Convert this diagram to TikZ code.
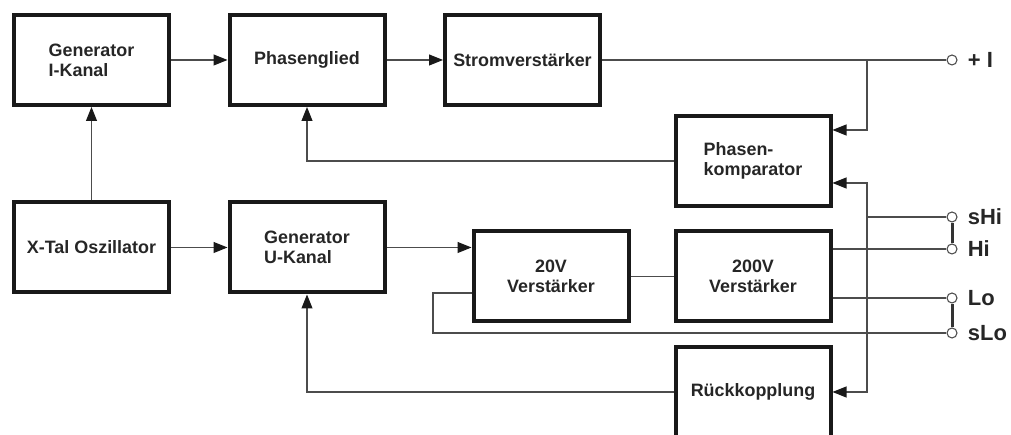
\documentclass[tikz,border=0pt]{standalone}
\usepackage{fontspec}
\setmainfont{Liberation Sans}
\usetikzlibrary{arrows.meta,positioning}
\tikzset{
  blk/.style={draw=black!90, line width=0.08cm, minimum width=3.1cm, minimum height=1.8cm,
    font=\bfseries\fontsize{10.2}{11.5}\selectfont, text=black!85},
  con/.style={draw=black!70, line width=0.6pt},
  arr/.style={con, -{Triangle[length=0.28cm,width=0.22cm,color=black!90]}},
  term/.style={circle, draw=black!70, fill=white, line width=0.6pt, minimum size=0.2cm, inner sep=0pt},
  bar/.style={draw=black!80, line width=0.06cm},
  lab/.style={font=\bfseries\fontsize{12.5}{14}\selectfont, text=black!85, inner sep=0pt}
}
\begin{document}
\begin{tikzpicture}
\useasboundingbox (0,0) rectangle (20.22,8.7);
% blocks
\node[blk, align=left] (genI) at (1.83,7.5) {Generator\\I-Kanal};
\node[blk] (phase) at (6.14,7.5) {Phasenglied};
\node[blk] (strom) at (10.45,7.5) {Stromverstärker};
\node[blk, align=left] (komp) at (15.06,5.48) {Phasen-\\komparator};
\node[blk] (osc) at (1.83,3.75) {X-Tal Oszillator};
\node[blk, align=left] (genU) at (6.14,3.75) {Generator\\U-Kanal};
\node[blk, align=center] (v20) at (11.02,3.17) {20V\\Verstärker};
\node[blk, align=center] (v200) at (15.06,3.17) {200V\\Verstärker};
\node[blk] (rueck) at (15.06,0.86) {Rückkopplung};
% terminals
\node[term] (pI) at (19.04,7.5) {};
\node[term] (shi) at (19.04,4.36) {};
\node[term] (hi) at (19.04,3.72) {};
\node[term] (lo) at (19.04,2.74) {};
\node[term] (slo) at (19.04,2.04) {};
\node[lab, right=0.2cm of pI] (pIl) {+ I};
\node[lab, right=0.2cm of shi] (shil) {sHi};
\node[lab, right=0.2cm of hi] (hil) {Hi};
\node[lab, right=0.2cm of lo] (lol) {Lo};
\node[lab, right=0.2cm of slo] (slol) {sLo};
\coordinate (ja) at (17.34,7.5);
\coordinate (jb) at (17.34,4.36);
\coordinate (sl) at (8.66,2.84);
% signal path
\draw[arr] (genI) -- (phase);
\draw[arr] (phase) -- (strom);
\draw[con] (strom) -- (pI);
\draw[arr] (osc) -- (genI);
\draw[arr] (osc) -- (genU);
\draw[arr] (genU.east) -- (genU.east -| v20.west);
\draw[con] (v20) -- (v200);
\draw[con] (v200.east |- hi) -- (hi);
\draw[con] (v200.east |- lo) -- (lo);
\draw[con] (v20.west |- sl) -- (sl) |- (slo);
% feedback
\draw[arr] (ja) |- ([yshift=0.62cm]komp.east);
\draw[con] (jb) -- (shi);
\draw[arr] (jb) |- ([yshift=-0.44cm]komp.east);
\draw[arr] (jb) |- (rueck.east);
\draw[arr] (komp.west) -| (phase.south);
\draw[arr] (rueck.west) -| (genU.south);
% sense links
\draw[bar] (shi) -- (hi);
\draw[bar] (lo) -- (slo);
\end{tikzpicture}
\end{document}
